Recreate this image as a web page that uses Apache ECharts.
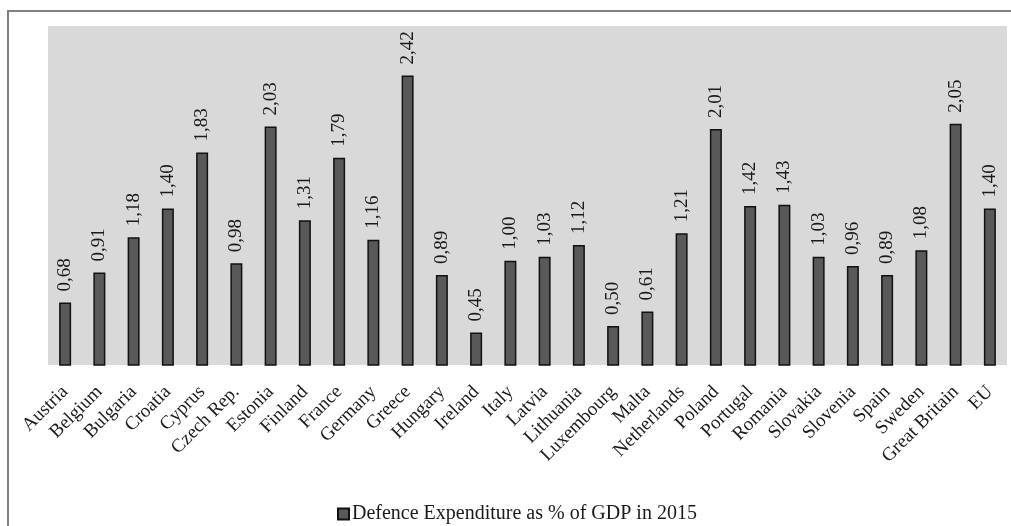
<!DOCTYPE html>
<html>
<head>
<meta charset="utf-8">
<script src="https://cdn.jsdelivr.net/npm/echarts@6/dist/echarts.min.js"></script>
<style>
html,body{margin:0;padding:0;background:#fff;}
#chart{width:1011px;height:526px;}
</style>
</head>
<body>
<div id="chart"></div>
<script>
const categories = ["Austria","Belgium","Bulgaria","Croatia","Cyprus","Czech Rep.","Estonia","Finland","France","Germany","Greece","Hungary","Ireland","Italy","Latvia","Lithuania","Luxembourg","Malta","Netherlands","Poland","Portugal","Romania","Slovakia","Slovenia","Spain","Sweden","Great Britain","EU"];
const values = [0.68,0.91,1.18,1.40,1.83,0.98,2.03,1.31,1.79,1.16,2.42,0.89,0.45,1.00,1.03,1.12,0.50,0.61,1.21,2.01,1.42,1.43,1.03,0.96,0.89,1.08,2.05,1.40];
const seriesName = "Defence Expenditure as % of GDP in 2015";

const FONT = "'Liberation Serif', 'Times New Roman', serif";
const chart = echarts.init(document.getElementById('chart'), null, {renderer:'canvas'});
chart.setOption({
  animation:false,
  backgroundColor:'#ffffff',
  textStyle:{fontFamily:FONT},
  graphic:[{
    type:'rect', silent:true, z:-1,
    shape:{x:8, y:11, width:1100, height:700},
    style:{fill:'none', stroke:'#7f7f7f', lineWidth:2}
  }],
  grid:{left:48, right:4, top:26, bottom:161, show:true, backgroundColor:'#d9d9d9', borderWidth:0},
  legend:{
    left:332, top:499,
    itemWidth:11, itemHeight:11, itemGap:10,
    icon:'rect',
    textStyle:{fontFamily:FONT, fontSize:20, color:'#1a1a1a', padding:[0,0,0,-2]},
    data:[seriesName]
  },
  xAxis:{
    type:'category', data:categories,
    axisLine:{show:false}, axisTick:{show:false},
    axisLabel:{rotate:45, interval:0, margin:24, fontFamily:FONT, fontSize:19, color:'#1a1a1a'}
  },
  yAxis:{
    type:'value', min:0.2, max:2.8, show:false,
    splitLine:{show:false}
  },
  series:[{
    name:seriesName, type:'bar', data:values, barWidth:12,
    itemStyle:{color:'#595959', borderColor:'#111', borderWidth:1.5},
    label:{
      show:true, position:'top', rotate:90, align:'left', verticalAlign:'middle', distance:11,
      fontFamily:FONT, fontSize:19, color:'#1a1a1a',
      formatter:p=>p.value.toFixed(2).replace('.',',')
    }
  }]
});
</script>
</body>
</html>
